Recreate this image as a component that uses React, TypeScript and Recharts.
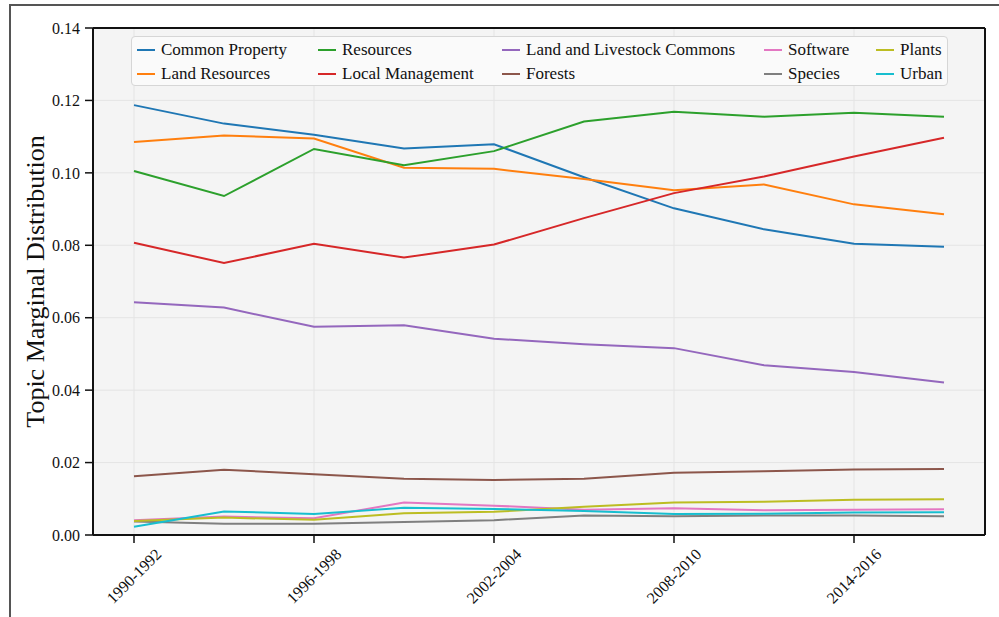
import React from 'react';
import { LineChart, Line, XAxis, YAxis, CartesianGrid, Legend } from 'recharts';

const periods = ['1990-1992', '1993-1995', '1996-1998', '1999-2001', '2002-2004', '2005-2007', '2008-2010', '2011-2013', '2014-2016', '2017-2019'];

const commonProperty = [0.1187, 0.1136, 0.1105, 0.1067, 0.1079, 0.0988, 0.0902, 0.0844, 0.0804, 0.0796];
const landResources = [0.1085, 0.1103, 0.1095, 0.1014, 0.1011, 0.0983, 0.0952, 0.0968, 0.0913, 0.0886];
const resources = [0.1005, 0.0936, 0.1066, 0.1021, 0.1060, 0.1142, 0.1169, 0.1155, 0.1166, 0.1155];
const localManagement = [0.0807, 0.0751, 0.0804, 0.0766, 0.0802, 0.0875, 0.0944, 0.0990, 0.1045, 0.1097];
const landLivestock = [0.0643, 0.0628, 0.0575, 0.0579, 0.0542, 0.0527, 0.0516, 0.0469, 0.0450, 0.0421];
const forests = [0.0162, 0.0180, 0.0168, 0.0155, 0.0152, 0.0155, 0.0172, 0.0176, 0.0181, 0.0182];
const software = [0.0041, 0.0051, 0.0046, 0.0090, 0.0081, 0.0070, 0.0074, 0.0068, 0.0070, 0.0071];
const species = [0.0037, 0.0031, 0.0031, 0.0036, 0.0041, 0.0054, 0.0052, 0.0054, 0.0054, 0.0052];
const plants = [0.0039, 0.0048, 0.0042, 0.0060, 0.0064, 0.0078, 0.0090, 0.0092, 0.0097, 0.0099];
const urban = [0.0023, 0.0065, 0.0058, 0.0075, 0.0072, 0.0066, 0.0058, 0.0059, 0.0062, 0.0063];

const yTicks = [0, 0.02, 0.04, 0.06, 0.08, 0.1, 0.12, 0.14];

const series = [
  { key: 'cp', name: 'Common Property', values: commonProperty, color: '#1f77b4' },
  { key: 'lr', name: 'Land Resources', values: landResources, color: '#ff7f0e' },
  { key: 'rs', name: 'Resources', values: resources, color: '#2ca02c' },
  { key: 'lm', name: 'Local Management', values: localManagement, color: '#d62728' },
  { key: 'll', name: 'Land and Livestock Commons', values: landLivestock, color: '#9467bd' },
  { key: 'fo', name: 'Forests', values: forests, color: '#8c564b' },
  { key: 'sw', name: 'Software', values: software, color: '#e377c2' },
  { key: 'sp', name: 'Species', values: species, color: '#7f7f7f' },
  { key: 'pl', name: 'Plants', values: plants, color: '#bcbd22' },
  { key: 'ur', name: 'Urban', values: urban, color: '#17becf' },
];

const data = periods.map((p, i) => {
  const row: any = { period: p };
  series.forEach((s) => { row[s.key] = s.values[i]; });
  return row;
});

const FONT = '"Liberation Serif", "DejaVu Serif", serif';

const XTick = (props: any) => {
  const { x, y, payload } = props;
  return (
    <text
      x={x}
      y={y + 31}
      transform={`rotate(-45, ${x}, ${y + 31})`}
      textAnchor="middle"
      dominantBaseline="central"
      fontFamily={FONT}
      fontSize={16}
      fill="#111"
    >
      {payload.value}
    </text>
  );
};

const YLabel = (props: any) => {
  const vb = props.viewBox || {};
  const cx = 35;
  const cy = (vb.y || 0) + (vb.height || 0) / 2;
  return (
    <text
      x={cx}
      y={cy}
      transform={`rotate(-90, ${cx}, ${cy})`}
      textAnchor="middle"
      dominantBaseline="central"
      fontFamily={FONT}
      fontSize={26}
      fill="#111"
    >
      Topic Marginal Distribution
    </text>
  );
};

const colLeft = [5, 186, 370, 632, 744];

const LegendContent = () => (
  <div
    style={{
      position: 'relative',
      width: 817,
      height: 50,
      boxSizing: 'border-box',
      border: '1px solid #d6d6d6',
      borderRadius: 4,
      background: '#fafafa',
      fontFamily: FONT,
      fontSize: 17,
      color: '#111',
    }}
  >
    {series.map((s, i) => {
      const col = Math.floor(i / 2);
      const row = i % 2;
      return (
        <div
          key={s.key}
          style={{
            position: 'absolute',
            left: colLeft[col],
            top: 13 + row * 24 - 11,
            height: 22,
            display: 'flex',
            alignItems: 'center',
            whiteSpace: 'nowrap',
          }}
        >
          <span style={{ display: 'inline-block', width: 18, height: 2, background: s.color, marginRight: 6 }} />
          <span>{s.name}</span>
        </div>
      );
    })}
  </div>
);

export default function App() {
  return (
    <div style={{ position: 'absolute', left: 0, top: 0, width: 999, height: 617, background: '#fff', overflow: 'hidden' }}>
      <div style={{ position: 'absolute', left: 0, top: 0 }}>
        <LineChart width={999} height={617} data={data} margin={{ top: 27, right: 13, bottom: 0, left: 0 }}>
          <CartesianGrid fill="#f4f4f4" stroke="#e4e4e4" strokeWidth={1} />
          <XAxis
            dataKey="period"
            interval={1}
            padding={{ left: 41, right: 41 }}
            tick={<XTick />}
            tickSize={8}
            tickMargin={2}
            axisLine={{ stroke: '#111', strokeWidth: 2 }}
            tickLine={{ stroke: '#111', strokeWidth: 1.5 }}
            height={82}
          />
          <XAxis
            xAxisId="top"
            orientation="top"
            dataKey="period"
            interval={1}
            padding={{ left: 41, right: 41 }}
            tick={false}
            tickSize={8}
            axisLine={{ stroke: '#111', strokeWidth: 2 }}
            tickLine={{ stroke: '#111', strokeWidth: 1.5 }}
            height={1}
          />
          <YAxis
            domain={[0, 0.14]}
            ticks={yTicks}
            tickFormatter={(v: number) => v.toFixed(2)}
            width={93}
            tickSize={8}
            tickMargin={5}
            tick={{ fontFamily: FONT, fontSize: 16, fill: '#111' }}
            axisLine={{ stroke: '#111', strokeWidth: 2 }}
            tickLine={{ stroke: '#111', strokeWidth: 1.5 }}
            label={<YLabel />}
          />
          <YAxis
            yAxisId="right"
            orientation="right"
            domain={[0, 0.14]}
            ticks={yTicks}
            allowDataOverflow
            tick={false}
            width={1}
            tickSize={8}
            axisLine={{ stroke: '#111', strokeWidth: 2 }}
            tickLine={{ stroke: '#111', strokeWidth: 1.5 }}
          />
          <Legend
            layout="vertical"
            align="center"
            verticalAlign="middle"
            wrapperStyle={{ top: 36, left: 131, width: 817, height: 50 }}
            content={<LegendContent />}
          />
          {series.map((s) => (
            <Line
              key={s.key}
              type="linear"
              dataKey={s.key}
              name={s.name}
              stroke={s.color}
              strokeWidth={2}
              dot={false}
              activeDot={false}
              isAnimationActive={false}
            />
          ))}
        </LineChart>
      </div>
      <div
        style={{
          position: 'absolute',
          left: 9,
          top: 4,
          width: 1100,
          height: 700,
          borderTop: '2px solid #555',
          borderLeft: '2px solid #555',
          pointerEvents: 'none',
          zIndex: 5,
        }}
      />
    </div>
  );
}
